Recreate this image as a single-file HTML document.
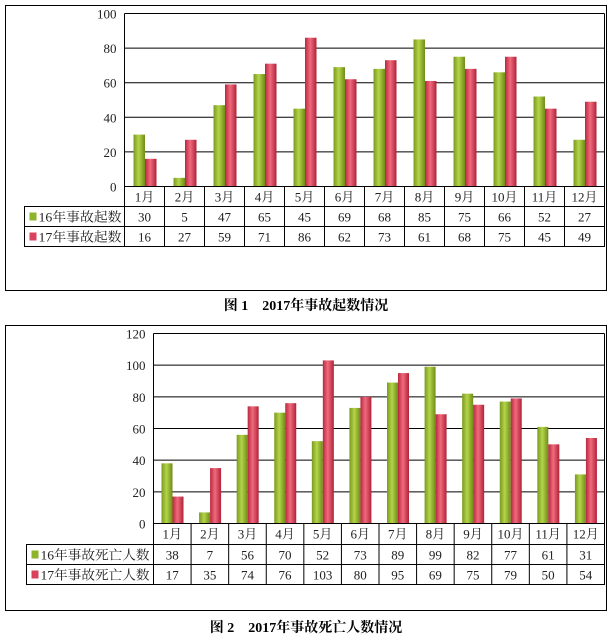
<!DOCTYPE html>
<html><head><meta charset="utf-8">
<style>
html,body{margin:0;padding:0;background:#fff;width:613px;height:639px;overflow:hidden}
svg{display:block}
text{font-family:"Liberation Serif","Noto Serif CJK SC","Noto Sans CJK SC",serif;fill:#222}
.cap{font-family:"Liberation Serif","Noto Serif CJK SC",serif;font-weight:bold;font-size:14px;fill:#000}
</style></head><body>
<svg id="s" width="613" height="639" xmlns="http://www.w3.org/2000/svg">
<defs>
<linearGradient id="g" x1="0" x2="1" y1="0" y2="0">
<stop offset="0" stop-color="#7a9a1e"/><stop offset="0.45" stop-color="#b4d44a"/><stop offset="1" stop-color="#6e8c18"/>
</linearGradient>
<linearGradient id="r" x1="0" x2="1" y1="0" y2="0">
<stop offset="0" stop-color="#b8283e"/><stop offset="0.45" stop-color="#f06a7e"/><stop offset="1" stop-color="#b02238"/>
</linearGradient>
</defs>
<text class="cap" x="306" y="310" text-anchor="middle">图 1　2017年事故起数情况</text>
<text class="cap" x="306" y="632" text-anchor="middle">图 2　2017年事故死亡人数情况</text>
</svg>
<script>
var s=document.getElementById('s'),NS='http://www.w3.org/2000/svg';
function el(t,a,txt){var e=document.createElementNS(NS,t);for(var k in a)e.setAttribute(k,a[k]);if(txt!=null)e.textContent=txt;s.appendChild(e);return e;}
function chart(o){
 el('rect',{x:o.bx,y:o.by,width:o.bw,height:o.bh,fill:'none',stroke:'#000','stroke-width':1});
 var cw=(o.right-o.left)/12;
 for(var i=0;i<=o.n;i++){var v=i*o.step,y=o.zero-(o.zero-o.top)*v/o.max;
  if(i>0)el('line',{x1:o.left,x2:o.right,y1:y,y2:y,stroke:'#000','stroke-width':1});
  el('text',{x:o.left-8,y:y+5,'text-anchor':'end','font-size':'13'},v);}
 for(var i=0;i<12;i++){var x0=o.left+i*cw;
  [[o.a,'url(#g)',o.off],[o.b,'url(#r)',o.off+o.w]].forEach(function(p){
   var h=(o.zero-o.top)*p[0][i]/o.max;el('rect',{x:x0+p[2],y:o.zero-h,width:o.w,height:h,fill:p[1]});});
 }
 el('line',{x1:o.left,x2:o.left,y1:o.top,y2:o.zero,stroke:'#000'});
 el('line',{x1:o.right,x2:o.right,y1:o.top,y2:o.zero,stroke:'#000'});
 var rows=o.rows;
 el('rect',{x:o.left,y:rows[0],width:o.right-o.left,height:rows[1]-rows[0],fill:'none',stroke:'#000'});
 el('rect',{x:o.lab,y:rows[1],width:o.right-o.lab,height:rows[3]-rows[1],fill:'none',stroke:'#000'});
 el('line',{x1:o.lab,x2:o.right,y1:rows[2],y2:rows[2],stroke:'#000'});
 for(var i=0;i<=12;i++){var x=o.left+i*cw;el('line',{x1:x,x2:x,y1:rows[0],y2:rows[3],stroke:'#000'});}
 for(var i=0;i<12;i++){var cx=o.left+i*cw+cw/2;
  el('text',{x:cx,y:rows[0]+15,'text-anchor':'middle','font-size':'13'},(i+1)+'月');
  el('text',{x:cx,y:rows[1]+15,'text-anchor':'middle','font-size':'13'},o.a[i]);
  el('text',{x:cx,y:rows[2]+15,'text-anchor':'middle','font-size':'13'},o.b[i]);}
 el('rect',{x:o.lab+5,y:rows[1]+6,width:7,height:8,fill:'#8db32a'});
 el('rect',{x:o.lab+5,y:rows[2]+6,width:7,height:8,fill:'#d8425a'});
 el('text',{x:o.lab+14,y:rows[1]+15,'font-size':'13',textLength:o.tl,lengthAdjust:'spacingAndGlyphs'},o.la);
 el('text',{x:o.lab+14,y:rows[2]+15,'font-size':'13',textLength:o.tl,lengthAdjust:'spacingAndGlyphs'},o.lb);
}
chart({bx:5.5,by:5.5,bw:601,bh:285,left:124.5,right:604.5,top:13.5,zero:186.5,max:100,step:20,n:5,
 off:9,w:11.5,rows:[186.5,206.5,226.5,246.5],lab:24.5,tl:83,
 a:[30,5,47,65,45,69,68,85,75,66,52,27],b:[16,27,59,71,86,62,73,61,68,75,45,49],
 la:'16年事故起数',lb:'17年事故起数'});
chart({bx:5.5,by:325.5,bw:601,bh:285,left:153.5,right:604.5,top:333.5,zero:523.5,max:120,step:20,n:6,
 off:8,w:11,rows:[523.5,544.5,564.5,584.5],lab:26.5,tl:109,
 a:[38,7,56,70,52,73,89,99,82,77,61,31],b:[17,35,74,76,103,80,95,69,75,79,50,54],
 la:'16年事故死亡人数',lb:'17年事故死亡人数'});
</script>
</body></html>
